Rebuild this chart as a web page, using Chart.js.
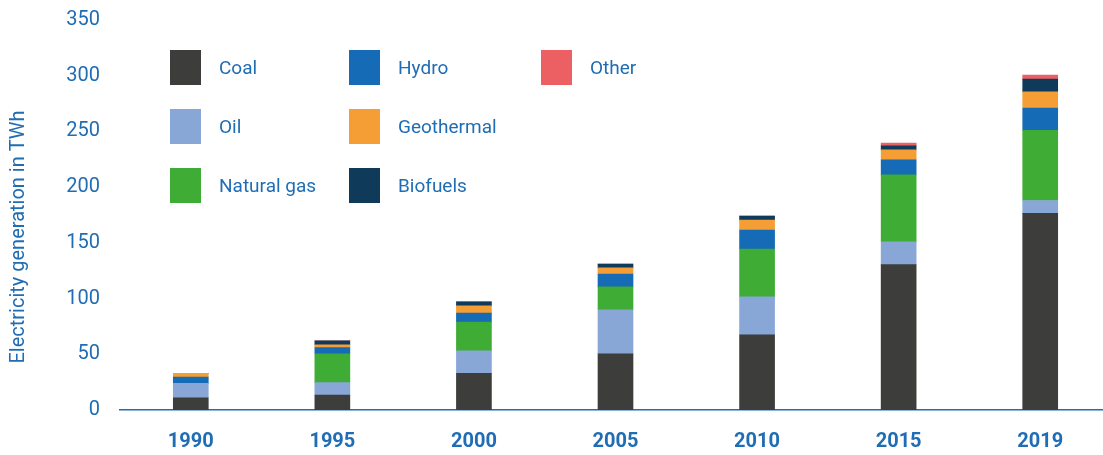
<!DOCTYPE html>
<html>
<head>
<meta charset="utf-8">
<script src="https://cdn.jsdelivr.net/npm/chart.js@4.4.1/dist/chart.umd.min.js"></script>
<style>
  html, body { margin: 0; padding: 0; background: #fff; overflow: hidden; }
  /* the plot runs a little past the right edge in the original */
  #wrap { position: relative; width: 1111px; height: 455px; }
</style>
</head>
<body>
<div id="wrap"><canvas id="genChart"></canvas></div>
<script>
const years = ["1990", "1995", "2000", "2005", "2010", "2015", "2019"];

const coal = [11, 13.5, 33, 50.5, 67.5, 130.5, 176.5];
const oil = [13, 11, 20, 39.5, 34, 20.5, 11.5];
const naturalGas = [0, 26, 26, 20.5, 43, 60, 63];
const hydro = [5.5, 5.5, 8, 11.5, 17, 13.5, 20];
const geothermal = [3.5, 2.5, 6.5, 5.5, 9, 9, 14.5];
const biofuels = [0, 3.5, 3.5, 3.5, 3.5, 3.5, 11.5];
const other = [0, 0, 0, 0, 0, 2.5, 3.5];

const yTicks = [0, 50, 100, 150, 200, 250, 300, 350];

const blue = "#1f6db4";
const font = "Roboto";

// legend drawn in columns (3 per column), like the original
const legendCols = [170, 349, 541];
const legendRows = [50, 109, 168];

const columnLegend = {
  id: "columnLegend",
  afterDraw(chart) {
    const c = chart.ctx;
    c.save();
    c.font = "19px " + font;
    c.textBaseline = "middle";
    chart.data.datasets.forEach((ds, i) => {
      const x = legendCols[Math.floor(i / 3)];
      const y = legendRows[i % 3];
      c.fillStyle = ds.backgroundColor;
      c.fillRect(x, y, 31, 35);
      c.fillStyle = blue;
      c.fillText(ds.label, x + 49, y + 19);
    });
    c.restore();
  }
};

const yTitle = {
  id: "yTitle",
  afterDraw(chart) {
    const c = chart.ctx;
    c.save();
    c.translate(19, 237);
    c.rotate(-Math.PI / 2);
    c.font = "20px " + font;
    c.fillStyle = blue;
    c.textAlign = "center";
    c.textBaseline = "middle";
    c.fillText("Electricity generation in TWh", 0, 0);
    c.restore();
  }
};

new Chart(document.getElementById("genChart"), {
  type: "bar",
  data: {
    labels: years,
    datasets: [
      { label: "Coal", data: coal, backgroundColor: "#3d3d3b" },
      { label: "Oil", data: oil, backgroundColor: "#88a6d6" },
      { label: "Natural gas", data: naturalGas, backgroundColor: "#3fac35" },
      { label: "Hydro", data: hydro, backgroundColor: "#156bb5" },
      { label: "Geothermal", data: geothermal, backgroundColor: "#f49e35" },
      { label: "Biofuels", data: biofuels, backgroundColor: "#0f3a5a" },
      { label: "Other", data: other, backgroundColor: "#ec6063" }
    ]
  },
  options: {
    responsive: true,
    maintainAspectRatio: false,
    animation: false,
    layout: { padding: { top: 20, right: 0, left: 0, bottom: 0 } },
    datasets: { bar: { barThickness: 35 } },
    plugins: {
      legend: { display: false },
      tooltip: { enabled: false }
    },
    scales: {
      x: {
        stacked: true,
        grid: { display: false, drawTicks: false },
        border: { display: true, color: blue, width: 1.5 },
        ticks: {
          color: blue,
          padding: 20,
          font: { family: font, size: 20, weight: "bold" }
        },
        afterFit(scale) { scale.height = 45; }
      },
      y: {
        stacked: true,
        min: 0,
        max: 350,
        grid: { display: false, drawTicks: false },
        border: { display: false },
        afterBuildTicks(scale) {
          scale.ticks = yTicks.map(v => ({ value: v }));
        },
        ticks: {
          color: blue,
          padding: 20,
          font: { family: font, size: 20 }
        },
        afterFit(scale) {
          scale.width = 120;
          scale.paddingTop = 0;
          scale.paddingBottom = 0;
        }
      }
    }
  },
  plugins: [columnLegend, yTitle]
});
</script>
</body>
</html>
